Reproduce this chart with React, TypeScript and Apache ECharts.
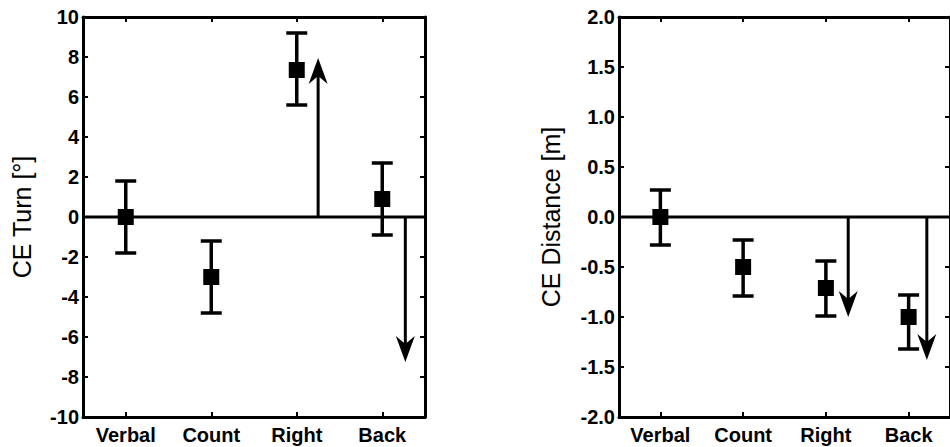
import React, { useEffect, useRef } from "react";
import * as echarts from "echarts";

const categories = ["Verbal", "Count", "Right", "Back"];
const categoryPositions = [1, 2, 3, 4];

// Left panel: CE Turn [°]
const turnMeans = [0, -3.0, 7.35, 0.9];
const turnLow = [-1.8, -4.8, 5.6, -0.9];
const turnHigh = [1.8, -1.2, 9.2, 2.7];
const turnArrowX = [3.25, 4.27];
const turnArrowTip = [7.95, -7.25];
const turnTicks = { min: -10, max: 10, interval: 2 };

// Right panel: CE Distance [m]
const distMeans = [0, -0.5, -0.71, -1.0];
const distLow = [-0.28, -0.79, -0.99, -1.32];
const distHigh = [0.27, -0.23, -0.44, -0.78];
const distArrowX = [3.27, 4.22];
const distArrowTip = [-1.0, -1.43];
const distTicks = { min: -2, max: 2, interval: 0.5 };

const FONT = "Liberation Sans, Arial, sans-serif";
const BLACK = "#000";

function errorBarRender(params: any, api: any) {
  const x = api.value(0);
  const lo = api.coord([x, api.value(1)]);
  const hi = api.coord([x, api.value(2)]);
  const hw = 10.5;
  const st = { stroke: BLACK, lineWidth: 3.5 };
  return {
    type: "group",
    children: [
      { type: "line", shape: { x1: lo[0], y1: lo[1], x2: hi[0], y2: hi[1] }, style: st },
      { type: "line", shape: { x1: lo[0] - hw, y1: lo[1], x2: lo[0] + hw, y2: lo[1] }, style: st },
      { type: "line", shape: { x1: hi[0] - hw, y1: hi[1], x2: hi[0] + hw, y2: hi[1] }, style: st },
    ],
  };
}

function arrowRender(params: any, api: any) {
  const x = api.value(0);
  const p0 = api.coord([x, 0]);
  const p1 = api.coord([x, api.value(1)]);
  const dir = p1[1] < p0[1] ? -1 : 1;
  const L = 26;
  const W = 9.5;
  const N = 18;
  const tipY = p1[1];
  const backY = tipY - dir * L;
  const notchY = tipY - dir * N;
  const px = p0[0];
  return {
    type: "group",
    children: [
      {
        type: "line",
        shape: { x1: px, y1: p0[1], x2: px, y2: notchY },
        style: { stroke: BLACK, lineWidth: 3 },
      },
      {
        type: "polygon",
        shape: { points: [[px, tipY], [px + W, backY], [px, notchY], [px - W, backY]] },
        style: { fill: BLACK },
      },
    ],
  };
}

function buildAxes(gridIndex: number, ticks: { min: number; max: number; interval: number }, name: string, nameGap: number, decimals: number) {
  const xBottom = {
    type: "value",
    gridIndex,
    min: 0.5,
    max: 4.5,
    position: "bottom",
    axisLine: { show: true, onZero: false, lineStyle: { color: BLACK, width: 3 } },
    axisTick: { show: true, inside: true, length: 5, lineStyle: { color: BLACK, width: 2 }, customValues: categoryPositions },
    axisLabel: {
      show: true,
      customValues: categoryPositions,
      formatter: (v: number) => categories[Math.round(v) - 1] ?? "",
      color: BLACK,
      fontFamily: FONT,
      fontSize: 20,
      fontWeight: "bold",
      margin: 8,
    },
    splitLine: { show: false },
  };
  const xTop = {
    type: "value",
    gridIndex,
    min: 0.5,
    max: 4.5,
    position: "top",
    axisLine: { show: true, onZero: false, lineStyle: { color: BLACK, width: 3 } },
    axisTick: { show: true, inside: true, length: 5, lineStyle: { color: BLACK, width: 2 }, customValues: categoryPositions },
    axisLabel: { show: false },
    splitLine: { show: false },
  };
  const yLeft = {
    type: "value",
    gridIndex,
    min: ticks.min,
    max: ticks.max,
    interval: ticks.interval,
    position: "left",
    name,
    nameLocation: "middle",
    nameGap,
    nameTextStyle: { color: BLACK, fontFamily: FONT, fontSize: 25 },
    axisLine: { show: true, onZero: false, lineStyle: { color: BLACK, width: 3 } },
    axisTick: { show: true, inside: true, length: 5, lineStyle: { color: BLACK, width: 2 } },
    axisLabel: {
      color: BLACK,
      fontFamily: FONT,
      fontSize: 20,
      fontWeight: "bold",
      margin: 4,
      formatter: (v: number) => v.toFixed(decimals),
    },
    splitLine: { show: false },
  };
  const yRight = {
    type: "value",
    gridIndex,
    min: ticks.min,
    max: ticks.max,
    interval: ticks.interval,
    position: "right",
    axisLine: { show: true, onZero: false, lineStyle: { color: BLACK, width: 3 } },
    axisTick: { show: true, inside: true, length: 5, lineStyle: { color: BLACK, width: 2 } },
    axisLabel: { show: false },
    splitLine: { show: false },
  };
  return { x: [xBottom, xTop], y: [yLeft, yRight] };
}

function buildSeries(axisIndex: number, means: number[], low: number[], high: number[], arrowX: number[], arrowTip: number[], zeroEnd: number) {
  return [
    {
      type: "line",
      xAxisIndex: axisIndex,
      yAxisIndex: axisIndex,
      data: [[0.5, 0], [zeroEnd, 0]],
      symbol: "none",
      clip: false,
      lineStyle: { color: BLACK, width: 3 },
      z: 1,
      silent: true,
    },
    {
      type: "custom",
      xAxisIndex: axisIndex,
      yAxisIndex: axisIndex,
      data: arrowX.map((x, i) => [x, arrowTip[i]]),
      renderItem: arrowRender,
      z: 2,
      silent: true,
    },
    {
      type: "custom",
      xAxisIndex: axisIndex,
      yAxisIndex: axisIndex,
      data: categoryPositions.map((x, i) => [x, low[i], high[i]]),
      renderItem: errorBarRender,
      z: 3,
      silent: true,
    },
    {
      type: "scatter",
      xAxisIndex: axisIndex,
      yAxisIndex: axisIndex,
      data: categoryPositions.map((x, i) => [x, means[i]]),
      symbol: "rect",
      symbolSize: 16,
      itemStyle: { color: BLACK, opacity: 1 },
      z: 4,
      silent: true,
    },
  ];
}

export default function App() {
  const ref = useRef<HTMLDivElement>(null);
  useEffect(() => {
    if (!ref.current) return;
    const chart = echarts.init(ref.current, undefined, { renderer: "svg" });
    const a1 = buildAxes(0, turnTicks, "CE Turn [°]", 49, 0);
    const a2 = buildAxes(1, distTicks, "CE Distance [m]", 56, 1);
    chart.setOption({
      animation: false,
      backgroundColor: "#fff",
      grid: [
        { left: 83, top: 17, width: 342, height: 400 },
        { left: 619, top: 17, width: 342, height: 400 },
      ],
      xAxis: [...a1.x, ...a2.x],
      yAxis: [...a1.y, ...a2.y],
      series: [
        ...buildSeries(0, turnMeans, turnLow, turnHigh, turnArrowX, turnArrowTip, 4.55),
        ...buildSeries(2, distMeans, distLow, distHigh, distArrowX, distArrowTip, 4.6),
      ],
    });
    return () => chart.dispose();
  }, []);
  return (
    <div
      ref={ref}
      style={{ position: "absolute", left: 0, top: 0, width: 950, height: 447, overflow: "hidden" }}
    />
  );
}
